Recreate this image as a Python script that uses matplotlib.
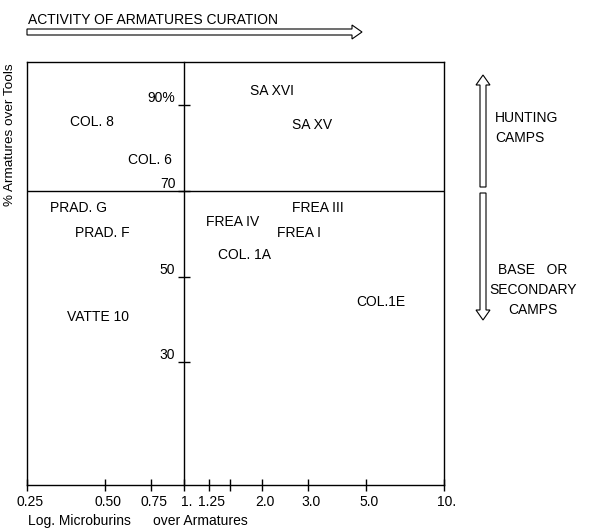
import matplotlib.pyplot as plt
from matplotlib.patches import FancyArrow
from matplotlib.ticker import NullLocator
from matplotlib.transforms import ScaledTranslation

plt.rcParams['font.family'] = ['Liberation Sans', 'DejaVu Sans']

# sites: microburins/armatures ratio (log scale) and % armatures over tools
sites = ['SA XVI', 'SA XV', 'COL. 8', 'COL. 6', 'PRAD. G', 'PRAD. F',
         'VATTE 10', 'FREA IV', 'FREA III', 'FREA I', 'COL. 1A', 'COL.1E']
ratio = [2.18, 3.10, 0.444, 0.74, 0.396, 0.485,
         0.468, 1.535, 3.27, 2.77, 1.706, 5.74]
armatures = [93.2, 85.3, 86.0, 77.1, 65.9, 60.1,
             40.5, 62.7, 65.9, 60.1, 55.0, 44.0]

xticks = [0.25, 0.5, 0.75, 1.0, 1.25, 1.5, 2.0, 3.0, 5.0, 10.0]
xlabels = ['0.25', '0.50', '0.75', '1.', '1.25', '', '2.0', '3.0', '5.0', '10.']
yticks = [30, 50, 70, 90]
ylabels = ['30', '50', '70', '90%']

fig = plt.figure(figsize=(5.97, 5.28), dpi=100)
ax = fig.add_axes([0.0452, 0.0814, 0.6985, 0.8011])
ax.set_xscale('log')
ax.set_xlim(0.25, 10)
ax.set_ylim(1.4, 100)

# y axis drawn on the x = 1 divider
ax.spines['left'].set_position(('data', 1.0))
for s in ax.spines.values():
    s.set_linewidth(1.0)
ax.axvline(0.25, color='k', lw=1.0, clip_on=False)
ax.axhline(70, color='k', lw=1.0)

ax.set_xticks(xticks)
ax.set_xticklabels(xlabels)
ax.xaxis.set_minor_locator(NullLocator())
ax.set_yticks(yticks)
ax.set_yticklabels(ylabels)
ax.tick_params(axis='x', direction='inout', length=8, width=1, labelsize=10, pad=3)
ax.tick_params(axis='y', direction='inout', length=8, width=1, labelsize=10, pad=2)
shift = ScaledTranslation(0.03, 0, fig.dpi_scale_trans)
for t in ax.get_xticklabels():
    t.set_transform(t.get_transform() + shift)
for t in ax.get_yticklabels():
    t.set_verticalalignment('bottom')

for name, x, y in zip(sites, ratio, armatures):
    ax.text(x, y, name, ha='center', va='center', fontsize=10)

fig.text(28 / 597, 1 - 20 / 528, 'ACTIVITY OF ARMATURES CURATION',
         ha='left', va='center', fontsize=10)
fig.text(28 / 597, 1 - 521 / 528, 'Log. Microburins',
         ha='left', va='center', fontsize=10)
fig.text(153 / 597, 1 - 521 / 528, 'over Armatures',
         ha='left', va='center', fontsize=10)
fig.text(10 / 597, 1 - 63 / 528, '% Armatures over Tools', rotation=90,
         ha='center', va='top', fontsize=9.7)

fig.text(495 / 597, 1 - 128 / 528, 'HUNTING\nCAMPS', ha='left', va='center',
         fontsize=10, linespacing=1.5)
fig.text(533 / 597, 1 - 290 / 528, 'BASE   OR\nSECONDARY\nCAMPS', ha='center',
         va='center', multialignment='center', fontsize=10, linespacing=1.5)

# hollow arrows (inches)
arrow_kw = dict(width=0.06, head_width=0.14, head_length=0.10,
                length_includes_head=True, fc='white', ec='k', lw=0.8,
                transform=fig.dpi_scale_trans)
fig.add_artist(FancyArrow(0.27, 4.96, 3.35, 0, **arrow_kw))
fig.add_artist(FancyArrow(4.83, 3.41, 0, 1.12, **arrow_kw))
fig.add_artist(FancyArrow(4.83, 3.35, 0, -1.27, **arrow_kw))

fig.savefig('out.png', dpi=100)
